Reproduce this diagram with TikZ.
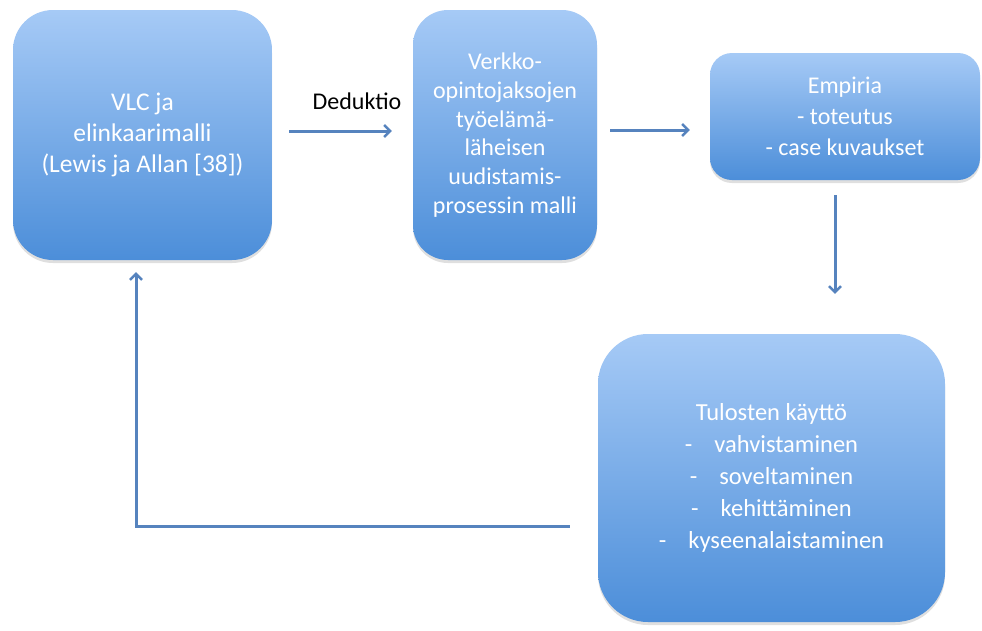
\documentclass[tikz,border=0pt]{standalone}
\usepackage{fontspec}
\setmainfont{Carlito}
\usetikzlibrary{arrows.meta,shadows}
\definecolor{boxtop}{HTML}{A6CAF6}
\definecolor{boxbot}{HTML}{4C8ED9}
\definecolor{arrowc}{HTML}{5683BE}
\tikzset{
  boxstyle/.style={rounded corners=#1, top color=boxtop, bottom color=boxbot, draw=none,
    text=white, align=center, inner sep=0pt,
    drop shadow={shadow xshift=0pt, shadow yshift=-3pt, opacity=0.25, fill=gray}},
  conn/.style={draw=arrowc, line width=3pt, -{Straight Barb[length=6pt,width=12pt,line width=2.4pt]}},
}
\begin{document}
\begin{tikzpicture}[x=1pt,y=-1pt]
\useasboundingbox[fill=white] (0,0) rectangle (982,630);
\node[boxstyle=40pt, minimum width=259pt, minimum height=250pt,
  font=\fontsize{25.5}{31}\selectfont] (A) at (142.5,135)
  {VLC ja\\elinkaarimalli\\(Lewis ja Allan [38])};
\node[boxstyle=35pt, minimum width=184pt, minimum height=250pt,
  font=\fontsize{24}{28.8}\selectfont] (B) at (505,135)
  {Verkko-\\opintojaksojen\\työelämä-\\läheisen\\uudistamis-\\prosessin malli};
\node[boxstyle=22pt, minimum width=270pt, minimum height=127pt,
  font=\fontsize{24}{31}\selectfont] (C) at (845,116.5)
  {Empiria\\- toteutus\\- case kuvaukset};
\node[boxstyle=50pt, minimum width=347pt, minimum height=288pt,
  font=\fontsize{24.5}{32}\selectfont] (D) at (771.5,478)
  {Tulosten käyttö\\-\hspace{22pt}vahvistaminen\\-\hspace{22pt}soveltaminen\\-\hspace{22pt}kehittäminen\\-\hspace{22pt}kyseenalaistaminen};
\node[font=\fontsize{24}{28}\selectfont, text=black] (lab) at (357,101) {Deduktio};
\draw[conn] ([xshift=17pt,yshift=4pt]A.east) -- ([xshift=-21pt,yshift=4pt]B.west);
\draw[conn] ([xshift=13pt,yshift=5pt]B.east) -- ([xshift=-20pt,yshift=5pt]B.east -| C.west);
\draw[conn] ([xshift=-10pt,yshift=-15pt]C.south) -- ([xshift=-10pt,yshift=40pt]C.south |- D.north);
\coordinate (corner) at (136,526);
\draw[conn] ([xshift=-28pt]D.west |- corner) -- (corner) -- ([xshift=-6.5pt,yshift=-12pt]A.south);
\end{tikzpicture}
\end{document}
